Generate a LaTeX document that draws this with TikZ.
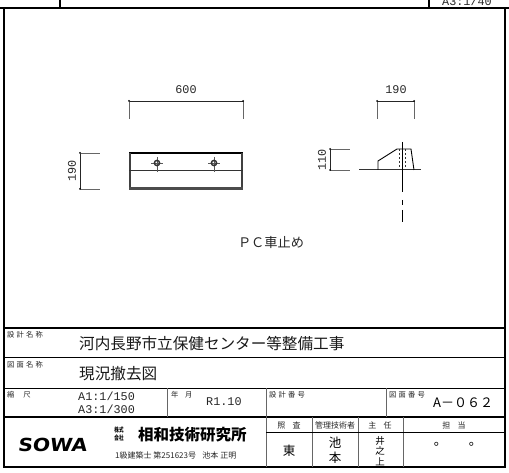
\documentclass[tikz,border=0pt]{standalone}
\usepackage{fontspec}
\setmainfont{Liberation Sans}
\setmonofont{Liberation Mono}
\newfontfamily\jpfont{Noto Sans CJK JP}
\newfontfamily\jpwide[LetterSpace=30]{Noto Sans CJK JP}
\newfontfamily\jpbold{Noto Sans CJK JP Black}
\newfontfamily\logofont{DejaVu Sans Bold}
\begin{document}
\begin{tikzpicture}[x=1pt,y=-1pt,
    frameline/.style={line width=1.6pt,black},
    rowline/.style={line width=1pt,black},
    cellline/.style={line width=1pt,black!60},
    dimline/.style={line width=0.8pt,black!85},
    tickline/.style={line width=0.9pt,black!60},
    smalllabel/.style={font=\jpwide\fontsize{7.3}{7.3}\selectfont,anchor=west,inner sep=0pt,black!85},
    headlabel/.style={font=\jpfont\fontsize{8}{8}\selectfont,inner sep=0pt,black!85},
    titlelabel/.style={font=\jpfont\fontsize{15.6}{16}\selectfont,anchor=west,inner sep=0pt,black!90},
    monolabel/.style={font=\ttfamily\fontsize{11.8}{11.8}\selectfont,inner sep=0pt,black!85}]
    \useasboundingbox (0,0) rectangle (509,473);

    % Sheet frame and top remains
    \begin{scope}
        \clip (0,0) rectangle (509,473);
        \node[monolabel] (sheetscale) at (467,1) {A3:1/40};
        \draw[frameline] (4,8) rectangle (505,467);
        \draw[frameline] (0,8) -- (509,8);
        \draw[frameline] (60,0) -- (60,8);
        \draw[frameline] (429,0) -- (429,8);
    \end{scope}

    % Front view
    \draw[dimline] (129,101) -- (243,101);
    \draw[tickline] (129,101) -- (129,119);
    \draw[tickline] (243,101) -- (243,119);
    \fill (129,101) circle (1pt) (243,101) circle (1pt);
    \node[monolabel] (widthlabel) at (186,90) {600};
    \draw[line width=1.3pt] (129,153) -- (243,153);
    \draw[line width=1.3pt,black!75] (130,153) -- (130,189);
    \draw[line width=1.3pt,black!75] (242,153) -- (242,189);
    \draw[line width=0.8pt,black!80] (129,170) -- (243,170);
    \draw[line width=2.2pt,black!70] (129,188.5) -- (243,188.5);
    \foreach \bx in {157,214} {
        \draw[line width=0.7pt,black!65] (\bx-6,163) -- (\bx+6,163) (\bx,157) -- (\bx,172);
        \draw[line width=1.5pt,black!80] (\bx,163) circle (2.6pt);
    }
    \draw[dimline] (80,153) -- (80,189);
    \draw[tickline] (80,153) -- (100,153);
    \draw[tickline] (80,189) -- (100,189);
    \fill (80,153) circle (1pt) (80,189) circle (1pt);
    \node[monolabel,rotate=90] (depthlabel) at (72,171) {190};

    % Side view
    \draw[dimline] (377,101) -- (414,101);
    \draw[tickline] (377,101) -- (377,119);
    \draw[tickline] (414,101) -- (414,119);
    \fill (377,101) circle (1pt) (414,101) circle (1pt);
    \node[monolabel] (sidelabel) at (396,90) {190};
    \draw[dimline] (330,149) -- (330,170);
    \draw[tickline] (330,149) -- (350,149);
    \draw[tickline] (330,170) -- (350,170);
    \fill (330,149) circle (1pt) (330,170) circle (1pt);
    \node[monolabel,rotate=90] (heightlabel) at (322,160) {110};
    \draw[line width=1pt,black!80] (359,170) -- (421,170);
    \draw[line width=0.9pt] (378,170) -- (378,161) -- (397,149) -- (411,149) -- (414,170);
    \draw[line width=0.9pt] (402,142) -- (402,192);
    \draw[line width=0.9pt] (402,200) -- (402,205);
    \draw[line width=0.9pt] (402,210) -- (402,222);
    \draw[line width=0.7pt,dash pattern=on 2pt off 2pt,black!80] (399,149) -- (399,168);
    \draw[line width=0.7pt,dash pattern=on 2pt off 2pt,black!80] (405,149) -- (405,168);

    \node[font=\jpfont\fontsize{13.2}{14}\selectfont,inner sep=0pt,black!85] (caption) at (271,243) {ＰＣ車止め};

    % Title block rows
    \draw[frameline] (4,328) -- (505,328);
    \draw[rowline] (4,357) -- (505,357);
    \draw[rowline] (4,388) -- (505,388);
    \draw[frameline] (4,417) -- (505,417);
    \draw[cellline] (167,388) -- (167,417);
    \draw[cellline] (266,388) -- (266,467);
    \draw[cellline] (386,388) -- (386,417);
    \draw[cellline] (312,417) -- (312,467);
    \draw[cellline] (358,417) -- (358,467);
    \draw[cellline] (403,417) -- (403,467);
    \draw[rowline] (266,432) -- (505,432);

    % Title block texts
    \node[smalllabel] (projecttag) at (7,335) {設計名称};
    \node[titlelabel] (project) at (79,344) {河内長野市立保健センター等整備工事};
    \node[smalllabel] (drawingtag) at (7,365) {図面名称};
    \node[titlelabel] (drawing) at (79,374) {現況撤去図};
    \node[smalllabel] (scaletag) at (7,395) {縮\hspace{1.2em}尺};
    \node[monolabel,anchor=west] (scaleA) at (78,396) {A1:1/150};
    \node[monolabel,anchor=west] (scaleB) at (78,409) {A3:1/300};
    \node[smalllabel] (datetag) at (171,395) {年\hspace{0.9em}月};
    \node[monolabel,anchor=west] (date) at (206,402) {R1.10};
    \node[smalllabel] (numbertag) at (269,395) {設計番号};
    \node[smalllabel] (sheettag) at (389,395) {図面番号};
    \node[font=\jpfont\fontsize{13}{13}\selectfont,anchor=west,inner sep=0pt] (sheetno) at (433,403) {A－０６２};

    % Company
    \node[font=\logofont\fontsize{18}{18}\selectfont,inner sep=0pt,xscale=1.13,xslant=0.12] (logo) at (53,445) {SOWA};
    \node[font=\jpbold\fontsize{6.5}{7.3}\selectfont,align=center,inner sep=0pt,xscale=0.7] (kabu) at (119,434) {株式\\会社};
    \node[font=\jpbold\fontsize{15.5}{16}\selectfont,anchor=west,inner sep=0pt] (company) at (138,435) {相和技術研究所};
    \node[font=\jpfont\fontsize{8}{8}\selectfont,anchor=west,inner sep=0pt,black!85] (engineer) at (115,455) {1級建築士 第251623号\hspace{0.8em}池本 正明};

    % Stamp columns
    \node[headlabel] (checkhead) at (289,425) {照\hspace{0.9em}査};
    \node[headlabel] (managerhead) at (335,425) {管理技術者};
    \node[headlabel] (chiefhead) at (380,425) {主\hspace{0.9em}任};
    \node[headlabel] (staffhead) at (454,425) {担\hspace{0.9em}当};
    \node[font=\jpfont\fontsize{12.5}{13}\selectfont,inner sep=0pt] (checkname) at (289,451) {東};
    \node[font=\jpfont\fontsize{12.5}{15}\selectfont,align=center,inner sep=0pt] (managername) at (335,450) {池\\本};
    \node[font=\jpfont\fontsize{9.5}{10.5}\selectfont,align=center,inner sep=0pt] (chiefname) at (380,451) {井\\之\\上};
    \node[font=\jpfont\fontsize{13}{13}\selectfont,inner sep=0pt] (staffa) at (440.3,444.7) {。};
    \node[font=\jpfont\fontsize{13}{13}\selectfont,inner sep=0pt] (staffb) at (475.3,444.7) {。};
\end{tikzpicture}
\end{document}
